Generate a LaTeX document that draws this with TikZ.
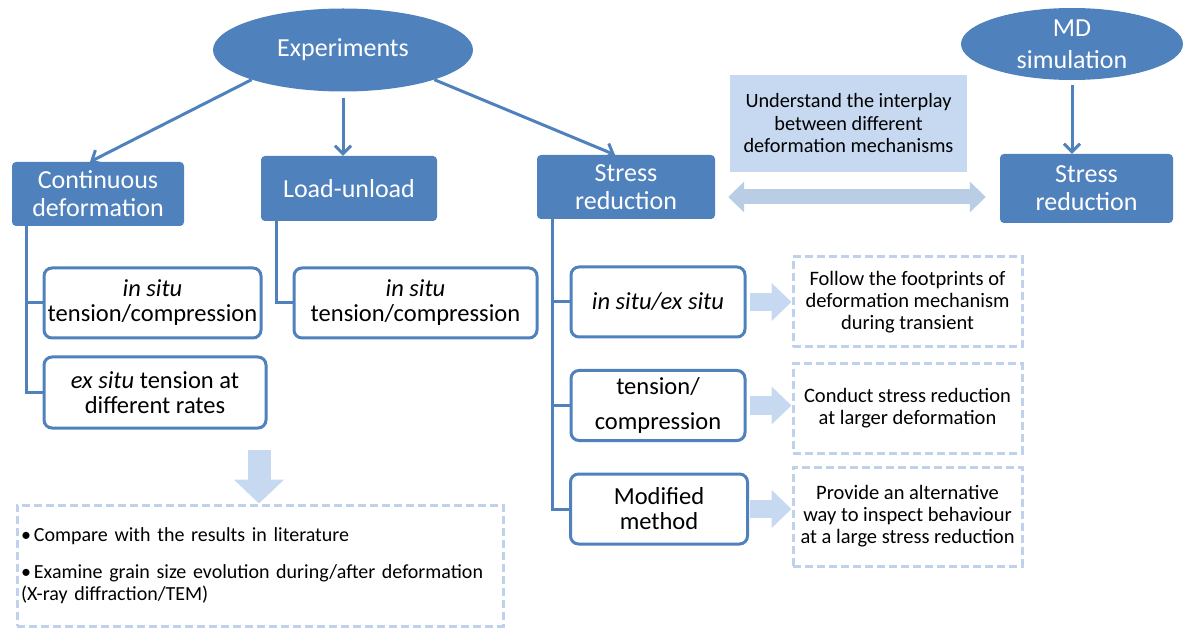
\documentclass[tikz,border=0pt]{standalone}
\usepackage{fontspec}
\setmainfont{Carlito}
\usepackage{tikz}
\usetikzlibrary{shapes, arrows.meta, positioning, calc}
\definecolor{boxblue}{RGB}{79,129,189}
\definecolor{paleblue}{RGB}{198,217,241}
\definecolor{arrowblue}{RGB}{185,205,229}
\definecolor{dashblue}{RGB}{192,210,235}

\begin{document}
\begin{tikzpicture}[x=1pt, y=-1pt,
  topnode/.style={ellipse, fill=boxblue, text=white, align=center, inner sep=0pt},
  mainbox/.style={rectangle, fill=boxblue, rounded corners=4pt, text=white, font=\fontsize{26}{28}\selectfont, align=center, inner sep=0pt},
  subbox/.style={draw=boxblue, line width=3pt, fill=white, rounded corners=8pt, font=\fontsize{24.5}{25}\selectfont, align=center, inner sep=0pt},
  goalbox/.style={draw=dashblue, line width=3pt, dash pattern=on 8pt off 4pt, font=\fontsize{20.5}{22}\selectfont, align=center, inner sep=0pt},
  link/.style={draw=boxblue, line width=3pt, -{Straight Barb[length=8pt,width=16pt]}},
  tree/.style={draw=boxblue, line width=3pt},
  blockarrow/.style={draw=paleblue, line width=18pt, -{Triangle[length=20pt,width=37pt]}}
]
  \useasboundingbox (0,0) rectangle (1184,628);

  \node[topnode, minimum width=260pt, minimum height=83pt, font=\fontsize{26}{28}\selectfont] (exp) at (343,50) {Experiments};
  \node[topnode, minimum width=222pt, minimum height=72pt, font=\fontsize{26}{32}\selectfont] (md) at (1072,44) {MD\\simulation};

  \node[mainbox, minimum width=172pt, minimum height=64pt] (cont) at (98,194) {Continuous\\deformation};
  \node[mainbox, minimum width=176pt, minimum height=65pt] (load) at (349,188.5) {Load-unload};
  \node[mainbox, minimum width=178pt, minimum height=64pt] (stress) at (626,187) {Stress\\reduction};
  \node[mainbox, minimum width=173pt, minimum height=69pt] (stressmd) at (1086.5,188.5) {Stress\\reduction};

  \node[fill=paleblue, minimum width=237pt, minimum height=97pt, inner sep=0pt, align=center, font=\fontsize{20.3}{22.5}\selectfont] (interplay) at (848.5,123.5) {Understand the interplay\\between different\\deformation mechanisms};

  \node[subbox, minimum width=217pt, minimum height=70pt] (insitu1) at (152.5,303) {\textit{in situ}\\tension/compression};
  \node[subbox, minimum width=222pt, minimum height=71pt] (exsitu) at (155,392.5) {\textit{ex situ} tension at\\different rates};
  \node[subbox, minimum width=243pt, minimum height=70pt] (insitu2) at (415.5,303) {\textit{in situ}\\tension/compression};

  \node[subbox, minimum width=174pt, minimum height=70pt] (situ) at (658,302) {\textit{in situ/ex situ}};
  \node[subbox, minimum width=174pt, minimum height=70pt] (tc) at (658,405.5) {tension/\\[10pt]compression};
  \node[subbox, minimum width=177pt, minimum height=70pt] (mod) at (659,509) {Modified\\method};

  \node[goalbox, minimum width=229pt, minimum height=90pt] (footprint) at (907.5,302) {Follow the footprints of\\deformation mechanism\\during transient};
  \node[goalbox, minimum width=229pt, minimum height=89pt] (larger) at (907.5,408.5) {Conduct stress reduction\\at larger deformation};
  \node[goalbox, minimum width=229pt, minimum height=99pt] (altway) at (907.5,516.5) {Provide an alternative\\way to inspect behaviour\\at a large stress reduction};

  \node[goalbox, minimum width=486pt, minimum height=121pt, text width=478pt, inner sep=4pt, align=left, font=\fontsize{20}{22}\selectfont] (summary) at (260,565.5) {\textbullet\hspace{3pt}Compare with the results in literature\\[15pt]\textbullet\hspace{3pt}Examine grain size evolution during/after deformation\\(X-ray diffraction/TEM)};

  \draw[link] (exp.198) -- ([xshift=-8pt]cont.north);
  \draw[link, shorten <=6pt] (exp.south) -- (exp.south |- load.north);
  \draw[link] (exp.-18) -- ([xshift=-11pt]stress.north);
  \draw[link, shorten <=5pt] (md.south) -- (md.south |- stressmd.north);

  \draw[tree] ([xshift=15pt]cont.south west) |- (insitu1.west);
  \draw[tree] ([xshift=15pt]cont.south west) |- (exsitu.west);
  \draw[tree] ([xshift=16pt]load.south west) |- (insitu2.west);
  \draw[tree] ([xshift=16pt]stress.south west) |- (situ.west);
  \draw[tree] ([xshift=16pt]stress.south west) |- (tc.west);
  \draw[tree] ([xshift=16pt]stress.south west) |- (mod.west);

  \draw[draw=arrowblue, line width=15pt, {Triangle[length=16pt,width=30pt]}-{Triangle[length=16pt,width=30pt]}]
    ($(stress.east)+(13,10)$) -- ($(stress.east -| stressmd.west)+(-14,10)$);

  \draw[blockarrow] ([xshift=3pt]situ.east) -- (situ.east -| footprint.west);
  \draw[blockarrow] ([xshift=3pt]tc.east) -- (tc.east -| larger.west);
  \draw[blockarrow] ([xshift=1pt]mod.east) -- (mod.east -| altway.west);

  \coordinate (down) at (259,450);
  \draw[draw=paleblue, line width=23pt, -{Triangle[length=24pt,width=49pt]}] (down) -- (down |- summary.north);
\end{tikzpicture}
\end{document}
